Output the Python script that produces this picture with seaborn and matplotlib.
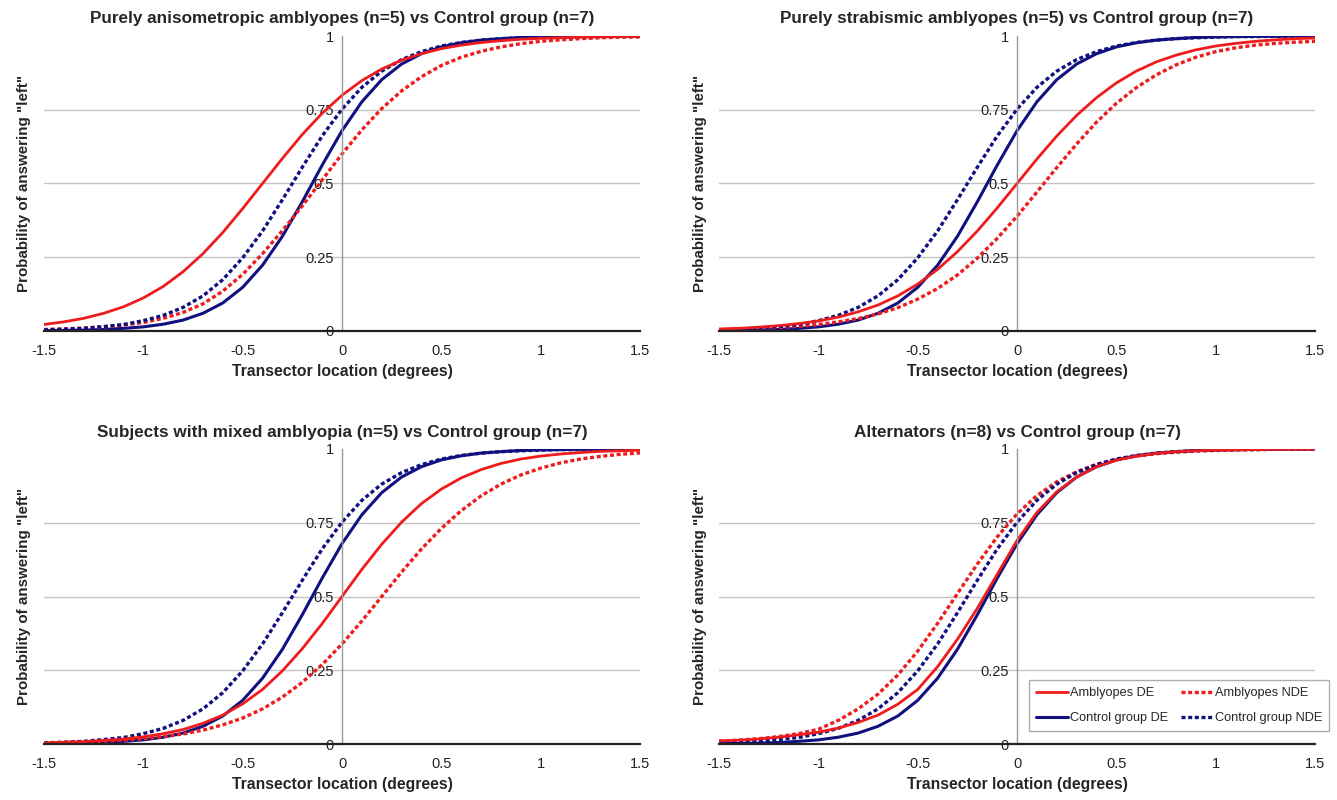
import numpy as np
import pandas as pd
import seaborn as sns
import matplotlib.pyplot as plt
from matplotlib.lines import Line2D

# Posiciones del transector (grados) donde se leen las curvas
x_loc = [-1.5, -1.4, -1.3, -1.2, -1.1, -1.0, -0.9, -0.8, -0.7, -0.6, -0.5,
         -0.4, -0.3, -0.2, -0.1, 0.0, 0.1, 0.2, 0.3, 0.4, 0.5,
         0.6, 0.7, 0.8, 0.9, 1.0, 1.1, 1.2, 1.3, 1.4, 1.5]

# Grupo control (igual en los cuatro paneles)
ctrl_de = [0.001, 0.002, 0.003, 0.005, 0.009, 0.014, 0.023, 0.037, 0.060, 0.095, 0.148,
           0.223, 0.321, 0.438, 0.562, 0.679, 0.777, 0.852, 0.905, 0.940, 0.963,
           0.977, 0.986, 0.991, 0.995, 0.997, 0.998, 0.999, 0.999, 1.000, 1.000]
ctrl_nde = [0.004, 0.006, 0.009, 0.015, 0.022, 0.035, 0.053, 0.080, 0.119, 0.174, 0.248,
            0.339, 0.445, 0.555, 0.661, 0.752, 0.826, 0.881, 0.920, 0.947, 0.966,
            0.978, 0.986, 0.991, 0.994, 0.996, 0.998, 0.998, 0.999, 0.999, 1.000]

# Ambliopes anisometrópicos
aniso_de = [0.022, 0.031, 0.043, 0.060, 0.082, 0.112, 0.151, 0.201, 0.262, 0.334, 0.415,
            0.500, 0.585, 0.666, 0.738, 0.799, 0.849, 0.888, 0.918, 0.940, 0.957,
            0.969, 0.978, 0.984, 0.989, 0.992, 0.994, 0.996, 0.997, 0.998, 0.999]
aniso_nde = [0.005, 0.007, 0.010, 0.014, 0.020, 0.029, 0.043, 0.063, 0.092, 0.135, 0.192,
             0.262, 0.340, 0.424, 0.512, 0.600, 0.682, 0.754, 0.814, 0.862, 0.900,
             0.928, 0.948, 0.963, 0.974, 0.982, 0.987, 0.991, 0.994, 0.996, 0.997]

# Ambliopes estrábicos
strab_de = [0.007, 0.009, 0.013, 0.018, 0.025, 0.034, 0.047, 0.065, 0.088, 0.119, 0.159,
            0.209, 0.269, 0.339, 0.417, 0.500, 0.583, 0.661, 0.731, 0.791, 0.841,
            0.881, 0.912, 0.935, 0.953, 0.966, 0.975, 0.982, 0.987, 0.991, 0.993]
strab_nde = [0.004, 0.006, 0.008, 0.012, 0.016, 0.022, 0.031, 0.042, 0.058, 0.079, 0.108,
             0.144, 0.190, 0.247, 0.314, 0.389, 0.471, 0.554, 0.634, 0.708, 0.772,
             0.825, 0.868, 0.902, 0.928, 0.947, 0.960, 0.969, 0.975, 0.979, 0.982]

# Ambliopía mixta
mixed_de = [0.004, 0.006, 0.008, 0.012, 0.017, 0.024, 0.035, 0.049, 0.070, 0.098, 0.136,
            0.185, 0.248, 0.323, 0.408, 0.500, 0.592, 0.677, 0.752, 0.815, 0.864,
            0.902, 0.930, 0.951, 0.966, 0.976, 0.983, 0.988, 0.992, 0.994, 0.996]
mixed_nde = [0.004, 0.005, 0.007, 0.009, 0.013, 0.018, 0.025, 0.034, 0.047, 0.065, 0.088,
             0.119, 0.159, 0.209, 0.269, 0.339, 0.417, 0.500, 0.583, 0.661, 0.731,
             0.791, 0.841, 0.881, 0.912, 0.935, 0.953, 0.966, 0.975, 0.982, 0.987]

# Alternantes
alt_de = [0.010, 0.013, 0.017, 0.023, 0.031, 0.040, 0.054, 0.073, 0.098, 0.135, 0.185,
          0.262, 0.355, 0.460, 0.575, 0.690, 0.785, 0.855, 0.905, 0.940, 0.962,
          0.976, 0.985, 0.991, 0.994, 0.996, 0.997, 0.998, 0.999, 0.999, 1.000]
alt_nde = [0.010, 0.013, 0.018, 0.025, 0.035, 0.050, 0.080, 0.119, 0.169, 0.234, 0.315,
           0.409, 0.510, 0.610, 0.702, 0.780, 0.842, 0.889, 0.923, 0.948, 0.965,
           0.976, 0.984, 0.989, 0.993, 0.995, 0.997, 0.998, 0.999, 0.999, 0.999]

titulos = ["Purely anisometropic amblyopes (n=5) vs Control group (n=7)",
           "Purely strabismic amblyopes (n=5) vs Control group (n=7)",
           "Subjects with mixed amblyopia (n=5) vs Control group (n=7)",
           "Alternators (n=8) vs Control group (n=7)"]
amblyopes = [(aniso_de, aniso_nde), (strab_de, strab_nde),
             (mixed_de, mixed_nde), (alt_de, alt_nde)]

x_ticks = [-1.5, -1, -0.5, 0, 0.5, 1, 1.5]
x_labels = ["-1.5", "-1", "-0.5", "0", "0.5", "1", "1.5"]
y_ticks = [0, 0.25, 0.5, 0.75, 1]
y_labels = ["0", "0.25", "0.5", "0.75", "1"]

rojo = "#ee1c1c"
azul = "#101080"
punteado = (0, (1.2, 0.8))

sns.set_theme(style="white")
plt.rcParams["font.family"] = ["Liberation Sans", "DejaVu Sans"]
plt.rcParams["lines.solid_joinstyle"] = "round"

fig = plt.figure(figsize=(13.37, 8.0), dpi=100)
posiciones = [[0.0329, 0.58625, 0.4458, 0.36875],
              [0.5378, 0.58625, 0.4458, 0.36875],
              [0.0329, 0.07, 0.4458, 0.36875],
              [0.5378, 0.07, 0.4458, 0.36875]]

for i in range(4):
    ax = fig.add_axes(posiciones[i])

    # Lineas de cuadricula horizontales
    for g in [0.25, 0.5, 0.75]:
        ax.axhline(g, color="#c4c4c4", lw=1, zorder=0)

    amb_de, amb_nde = amblyopes[i]
    sns.lineplot(x=x_loc, y=ctrl_de, ax=ax, color=azul, lw=2.2, estimator=None)
    sns.lineplot(x=x_loc, y=amb_nde, ax=ax, color=rojo, lw=2.4, linestyle=punteado, estimator=None)
    sns.lineplot(x=x_loc, y=ctrl_nde, ax=ax, color=azul, lw=2.4, linestyle=punteado, estimator=None)
    sns.lineplot(x=x_loc, y=amb_de, ax=ax, color=rojo, lw=2.0, estimator=None)

    ax.set_xlim(-1.5, 1.5)
    ax.set_ylim(0, 1)

    # Eje vertical en x = 0 como en el original
    ax.spines["top"].set_visible(False)
    ax.spines["right"].set_visible(False)
    ax.spines["left"].set_position(("data", 0))
    ax.spines["left"].set_color("#999999")
    ax.spines["left"].set_linewidth(1)
    ax.spines["bottom"].set_color("#222222")
    ax.spines["bottom"].set_linewidth(1.6)

    ax.set_xticks(x_ticks)
    ax.set_xticklabels(x_labels)
    ax.set_yticks(y_ticks)
    ax.set_yticklabels(y_labels)
    ax.tick_params(axis="x", direction="inout", length=7, width=1.2, color="#222222",
                   pad=6, labelsize=10.5, labelcolor="#222222")
    ax.tick_params(axis="y", direction="out", length=4, width=1, color="#999999",
                   pad=2, labelsize=10.5, labelcolor="#222222")

    ax.set_title(titulos[i], fontsize=12.3, fontweight="bold", pad=9)
    ax.set_xlabel("Transector location (degrees)", fontsize=11.3, fontweight="bold", labelpad=4)
    ax.set_ylabel('Probability of answering "left"', fontsize=10.9, fontweight="bold")
    ax.yaxis.set_label_coords(-0.021, 0.5)

    if i == 3:
        handles = [Line2D([], [], color=rojo, lw=2.0),
                   Line2D([], [], color=azul, lw=2.2),
                   Line2D([], [], color=rojo, lw=2.4, linestyle=punteado),
                   Line2D([], [], color=azul, lw=2.4, linestyle=punteado)]
        etiquetas = ["Amblyopes DE", "Control group DE", "Amblyopes NDE", "Control group NDE"]
        leg = ax.legend(handles, etiquetas, ncol=2, loc="lower right",
                        bbox_to_anchor=(1.024, 0.044), borderaxespad=0,
                        fontsize=9.2, frameon=True, fancybox=False,
                        handlelength=2.5, handletextpad=0.15, columnspacing=1.0,
                        labelspacing=1.0, borderpad=0.55)
        leg.get_frame().set_edgecolor("#999999")
        leg.get_frame().set_linewidth(1)

fig.savefig("out.png", dpi=100)
